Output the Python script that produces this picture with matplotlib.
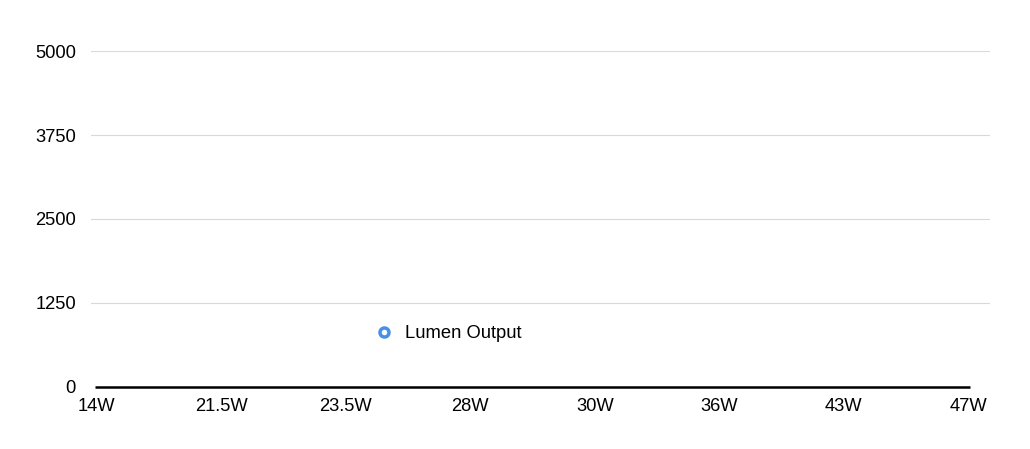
import numpy as np
import matplotlib
matplotlib.use("Agg")
import matplotlib.pyplot as plt
from matplotlib.lines import Line2D

# ---- data ----
categories = ["14W", "21.5W", "23.5W", "28W", "30W", "36W", "43W", "47W"]
# no data points are visible in the reference chart
lumen_output = [None, None, None, None, None, None, None, None]
y_ticks = [0, 1250, 2500, 3750, 5000]
series_name = "Lumen Output"

plt.rcParams["font.family"] = ["Liberation Sans", "DejaVu Sans"]

W, H, DPI = 1030, 449, 100
fig = plt.figure(figsize=(W / DPI, H / DPI), dpi=DPI)
left, right = 91 / W, 990 / W
top, bottom = 1 - 51.3 / H, 1 - 386.5 / H
ax = fig.add_axes([left, bottom, right - left, top - bottom])

x = np.arange(len(categories))
vals = np.array([np.nan if v is None else v for v in lumen_output], dtype=float)
blue = "#4A90E2"
ax.plot(x, vals, color=blue, lw=2, marker="o", ms=6.5, mfc="white",
        mec=blue, mew=2.5)

# axis limits so categories sit at 96.5 .. 968.5 px
unit = (968.5 - 96.5) / (len(categories) - 1)
ax.set_xlim(0 - (96.5 - 91) / unit, (len(categories) - 1) + (990 - 968.5) / unit)
ax.set_ylim(y_ticks[0], y_ticks[-1])

ax.set_yticks(y_ticks)
ax.set_yticklabels([str(t) for t in y_ticks])
ax.set_xticks(x)
ax.set_xticklabels(categories)

for t in y_ticks[1:]:
    ax.axhline(t, color="#d9d9d9", lw=0.8, zorder=0)
ax.hlines(0, x[0] - 0.012, x[-1] + 0.012, color="black", lw=1.8,
          clip_on=False, zorder=3)

for s in ax.spines.values():
    s.set_visible(False)
fs = 13.2
ax.tick_params(axis="both", length=0, labelsize=fs, colors="black")
ax.tick_params(axis="y", pad=10.8)
ax.tick_params(axis="x", pad=8.2)

handle = Line2D([], [], ls="none", marker="o", ms=6.5, mfc="white",
                mec=blue, mew=2.5)
fig.legend([handle], [series_name], loc="center left",
           bbox_to_anchor=(375.2 / W, 1 - 333.5 / H), frameon=False,
           borderpad=0, borderaxespad=0, handlelength=1.0,
           handletextpad=0.6, fontsize=fs)

fig.savefig("out.png", dpi=DPI, facecolor="white")
